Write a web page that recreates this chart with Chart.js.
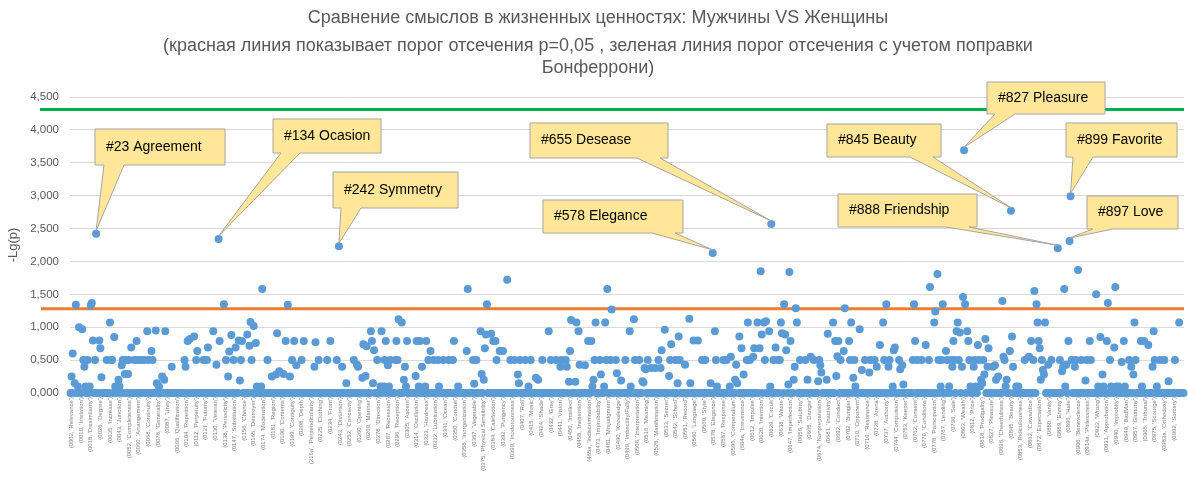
<!DOCTYPE html>
<html>
<head>
<meta charset="utf-8">
<script src="https://cdn.jsdelivr.net/npm/chart.js@4.4.1/dist/chart.umd.min.js"></script>
<style>
  html, body { margin: 0; padding: 0; background: #fff; }
</style>
</head>
<body>
<canvas id="myChart" width="1188" height="481"></canvas>
<script>
/* globals Chart:false */

// Title and axis text
var titleLines = [
  'Сравнение смыслов в жизненных ценностях: Мужчины VS Женщины',
  '(красная линия показывает порог отсечения p=0,05 , зеленая линия порог отсечения с учетом поправки',
  'Бонферрони)'
]
var axisTitle = '-Lg(p)'

// cut-off lines (-lg p)
var cutP05 = 1.28
var cutBonferroni = 4.31

// -lg(p) for every category (20 per row)
var values = [
  0,0.25,0.6,0,0.15,1.34,0,0.1,1,0,0,0.97,0.5,0.4,0.1,0,0.5,0,0.1,1.33,
  1.37,0.8,0,0.5,2.42,0,0,0.8,0.68,0.24,0,0,0,0,0.5,0,0,1.07,0.5,0.5,
  0,0.85,0.1,0,0.1,0.2,0.1,0,0.42,0.5,0,0.29,0.5,0,0.29,0.5,0,0.69,0,0,
  0.5,0,0.79,0.5,0,0,0.5,0,0,0.5,0,0,0.94,0.5,0,0,0.64,0.5,0,0,
  0.95,0.15,0,0.1,0,0,0.25,0,0.2,0.94,0,0,0,0,0,0.4,0,0,0,0,
  0,0,0,0,0,0,0,0.5,0.4,0,0.79,0,0.82,0,0,0,0.86,0,0.5,0.64,
  0,0,0,0,0,0.5,0,0,0.5,0.69,0,0,0,0,0.94,0,0,0.43,0,2.34,
  0.79,0,0,0,1.35,0,0.5,0,0.25,0.63,0,0.88,0,0.5,0,0.69,0,0,0.8,0.19,
  0.5,0.79,0,0,0,0,0.89,0,0.72,1.08,0.5,0,1.02,0,0.76,0.1,0,0,0,0.1,
  1.58,0,0,0,0,0.5,0,0,0,0.25,0,0,0,0.28,0.91,0,0.33,0,0,0,
  0.29,0,0.79,0,1.34,0,0.25,0,0.5,0,0.79,0,0.42,0,0,0,0,0.5,0,0.79,
  0,0,0,0,0,0,0,0,0,0.4,0.77,0,0,0.5,0,0,0,0,0,0,
  0,0.5,0,0,0.79,0,0,0,0,0,0.5,0,2.23,0,0,0.4,0,0,0,0.15,
  0,0,0,0,0,0,0.5,0,0,0.43,0.4,0,0,0,0.23,0.74,0,0.26,0.71,0,
  0,0,0.94,0.79,0.15,0.65,0,0,0.5,0,0,0.1,0.94,0,0.1,0.5,0.79,0,0.42,0.1,
  0.5,0,0,0,0,0.5,0.79,0.5,1.12,0,0,1.07,0,0.2,0.4,0.1,0.79,0,0,0,
  0,0,0,0,0.26,0.79,0,0.1,0.79,0,0.4,0,0,0.1,0.79,0,0.5,0,0.64,0,
  0,0.5,0,0,0,0.5,0.1,0,0,0,0.5,0,0,0,0,0.5,0,0,0,0.5,
  0.79,0,0,0,0.1,0,0,0,0,0,0,0,0.64,1.58,0,0,0,0,0.5,0.14,
  0,0.5,0,0,0,0.94,0.29,0,0.2,0.68,0.89,1.35,0,0,0,0.9,0,0.79,0,0.79,
  0.5,0,0,0.64,0,0,0.64,0,0,0,1.72,0,0,0.5,0,0,0,0.5,0,0,
  0.28,0.15,0.5,0,0,0,0,0.5,0,0,0.1,0,0.5,0,0,0,0,0.23,0,0.2,
  0,0,0,0.5,0,0,0,0,0,0.94,0,0.5,0,0,0,0,0.5,0,0,0,
  0.4,0.5,0,0,0,0.5,0.4,0,0.17,0.64,1.11,0,0,0,0.17,1.07,0,0.94,0.43,0,
  0,0,0,0.42,0,0,0.79,0,0,0.79,0.1,0.2,0.5,1.07,0,0,0,0.5,0.28,0,
  0,0.1,1.07,0.5,1.58,0,0,0.5,1.27,0,0,0,0.5,0.3,0,0,0,0.19,0,0,
  0,0.5,0,0,0,0.94,0.1,0,0,1.12,0.5,0,0,0,0.5,0,0,0.18,0.16,0.38,
  0.36,0,0.5,0,0,0.38,0,0,0,0.38,0,0,0.5,0,0.38,0.65,0,0,0.96,0,
  0,0,0.26,0.5,0.74,0,0,0,0.5,0,0.15,0.86,0.5,0,0,0,0,0.43,0,0,
  0,1.13,0.15,0,0,0.8,0,0,0,0.8,0,0,0,0.5,0,0,0.5,0,0,0,
  0,0.15,0,2.13,0,0.94,0.5,0.1,0,0,0,0,0,0.5,0,0,0.5,0,0,0.1,
  0.55,0,0,0,0.2,0.43,0.15,0,0.86,0,0.68,0,0.28,0,0,0.5,1.07,0,0.5,0,
  0,0.55,0.68,0,0,1.07,0,0.68,1.85,0.89,0,1.07,0.5,1.09,0,0,0.94,0.1,2.57,0,
  0.5,0,0.69,0,0.5,0,0.5,1.07,0.91,0,1.35,0.89,0.65,0,0.13,1.84,0.79,0,0,0.2,
  0.4,1.29,1.07,0,0,0.5,0,0,0,0,0.5,0,0.2,0,0,0.55,0,0,0.5,0,
  0,0,0.18,0.5,0.42,0.31,0,0,0,0,0.2,0.9,0,0,0,0,1.07,0,0.79,0.26,
  0.56,0.79,0,0.5,0,0,0.64,1.29,0,0,0,0.79,0.5,1.07,0,0.23,0.5,0.1,0,0,
  0,0.97,0,0.35,0,0,0.5,0,0,0,0.31,0.5,0,0,0,0.5,0,0.4,0,0,
  0.73,0,0,1.07,0.5,0,1.35,0,0.4,0.5,0,0,0.1,0.65,0.69,0,0,0,0.5,0.36,
  0,0.42,0.13,0,0,0,0,0,0,0,0,0.5,1.35,0.79,0,0.5,0,0,0,0.5,
  0,0,0,0.73,0,0,0.5,1.61,0,0,0,1.07,1.24,0,1.81,0.5,0,0.1,0.5,1.35,
  0,0,0.64,0.5,0,0.1,0,0.5,0.4,0.79,0.5,0,0.94,1.07,0.5,0.92,0,0.4,1.46,3.69,
  1.35,0,0.94,0.79,0.5,0.1,0,0,0.4,0.5,0.1,0,0.73,0.5,0.1,0.2,0.15,0.5,0.28,0.82,
  0,0.4,0.68,0,0,0,0.4,0,0.42,0.2,0,0.25,0,0,0,1.4,0.55,0.5,0.1,0.2,
  0,0,0.64,2.77,0.86,0.4,0,0,0.1,0,0.1,0,0,0,0,0,0.5,0,0,0,
  0.55,0,0.79,0,0.5,1.55,0,1.35,1.07,0.79,0.68,0.2,0.5,0.35,0.28,1.07,0,0,0.43,0,
  0,0.5,0,0,0,0,0,2.2,0,0.5,0,0.33,0.4,1.58,0.1,0.43,0,0.79,2.31,2.99,
  0.5,0,0,0.4,0.5,0,1.87,0,0,0.5,0,0,0,0.19,0.5,0,0,0.79,0.5,0,
  0,0,0,1.5,0,0.1,0,0.85,0,0.28,0.1,0,0,0.79,1.37,0,0.5,0.1,0,0,
  0.69,1.61,0.1,0,0.1,0,0,0.47,0,0.79,0.1,0,0,0,0.5,0,0.4,0,0.28,1.07,
  0.5,0,0,0,0,0.79,0.1,0,0.79,0,0,0,0.73,0,0,0,0.4,0.94,0.5,0,
  0.1,0,0,0.5,0,0,0,0.5,0,0,0,0.18,0,0,0,0,0,0.5,0,0,
  0,1.07,0,0,0,0
]

// every 9th category carries a label, starting at the 2nd one
var tickStart = 1
var tickStep = 9
var tickLabels = [
  "(0002, 'Relevance')", "(0010, 'Irrelation')", "(0018, 'Dissimilarity')", "(0026, 'Degree')", "(0035, 'Increase')",
  "(0043, 'Junction')", "(0052, 'Completeness')", "(0060, 'Arrangement')", "(0068, 'Continuity')", "(0078, 'Generality')",
  "(0087, 'Unity')", "(0096, 'Qualification')", "(0104, 'Repetition')", "(0112, 'Perpetuity')", "(0121, 'Futurity')",
  "(0130, 'Veteran')", "(0138, 'Periodicity')", "(0147, 'Substitution')", "(0156, 'Chance')", "(0165, 'Destroyer')",
  "(0174, 'Moderation')", "(0181, 'Region')", "(0190, 'Contents')", "(0199, 'Contiguity')", "(0208, 'Depth')",
  "(216a', 'Perpendicularity')", "(0225, 'Clothing')", "(0234, 'Front')", "(0243, 'Distortion')", "(0252, 'Concavity')",
  "(0260, 'Opening')", "(0269, 'Mariner')", "(0278, 'Direction')", "(0287, 'Recession')", "(0296, 'Reception')",
  "(0305, 'Ascent')", "(0314, 'Oscillation')", "(0323, 'Hardness')", "(0332, 'Lubrication')", "(0341, 'Ocean')",
  "(0350, 'Conduit')", "(0358, 'Inorganization')", "(0367, 'Vegetable')", "(0375, 'Physical Sensibility')", "(0384, 'Calefaction')",
  "(0392, 'Pungency')", "(0399, 'Inodorousness')", "(0407, 'Roll')", "(0415, 'Music')", "(0424, 'Shade')",
  "(0432, 'Gray')", "(0441, 'Vision')", "(0450, 'Intellect')", "(0458, 'Inattention')", "(465a, 'Indiscrimination')",
  "(0473, 'Improbability')", "(0481, 'Misjudgment')", "(0490, 'Knowledge')", "(0499, 'Imbecility/Folly')", "(0508, 'Interpretation')",
  "(0516, 'Meaning')", "(0525, 'Manifestation')", "(0533, 'Secret')", "(0542, 'School')", "(0551, 'Record')",
  "(0560, 'Language')", "(0569, 'Style')", "(0578, 'Elegance')", "(0587, 'Response')", "(0596, 'Compendium')",
  "(604a, 'Irreverence')", "(0612, 'Impulse')", "(0620, 'Intention')", "(0629, 'Circuit')", "(0638, 'Waste')",
  "(0647, 'Imperfection')", "(0656, 'Salubrity')", "(0665, 'Danger')", "(0674, 'Nonpreparation')", "(0681, 'Inactivity')",
  "(0692, 'Conduct')", "(0702, 'Bungler')", "(0710, 'Opponent')", "(0719, 'Resistance')", "(0728, 'Arena')",
  "(0737, 'Authority')", "(0744, 'Compulsion')", "(0753, 'Keeper')", "(0762, 'Consent')", "(0770, 'Conditions')",
  "(0778, 'Participation')", "(0787, 'Lending')", "(0796, 'Sale')", "(0803, 'Wealth')", "(0812, 'Price')",
  "(0818, 'Prodigality')", "(0827, 'Pleasure')", "(0836, 'Cheerfulness')", "(0845, 'Beauty')", "(0853, 'Ridiculousness')",
  "(0862, 'Cowardice')", "(0872, 'Expectation')", "(0880, 'Vanity')", "(0889, 'Enmity')", "(0896, 'Hate')",
  "(0906, 'Benevolence')", "(0914a, 'Pitilessness')", "(0923, 'Wrong')", "(0931, 'Approbation')", "(0940, 'Improbity')",
  "(0949, 'BadMan')", "(0957, 'Gluttony')", "(0966, 'Tribunal')", "(0975, 'Scourge')", "(0983a, 'Orthodoxy')",
  "(0992, 'Sorcery')"
]

// callouts: text and the category they point at
var calloutText = ['#23 Agreement', '#134 Ocasion', '#242 Symmetry', '#578 Elegance', '#655 Desease',
  '#827 Pleasure', '#845 Beauty', '#899 Favorite', '#888 Friendship', '#897 Love']
var calloutIndex = [24, 139, 252, 603, 658, 839, 883, 939, 927, 938]

// where the callout boxes sit (pixels), b1/b2 = wedge base on the bottom edge
var calloutBoxes = [
  { x: 95, y: 129, w: 130, h: 36, b1: 104, b2: 124 },
  { x: 273, y: 119, w: 108, h: 34, b1: 281, b2: 300 },
  { x: 333, y: 172, w: 125, h: 36, b1: 341, b2: 361 },
  { x: 543, y: 200, w: 140, h: 33, b1: 652, b2: 675 },
  { x: 530, y: 123, w: 138, h: 35, b1: 637, b2: 660 },
  { x: 987, y: 82, w: 118, h: 32, b1: 995, b2: 1015 },
  { x: 827, y: 124, w: 114, h: 33, b1: 910, b2: 933 },
  { x: 1066, y: 123, w: 111, h: 34, b1: 1073, b2: 1093 },
  { x: 838, y: 194, w: 139, h: 33, b1: 946, b2: 969 },
  { x: 1087, y: 196, w: 91, h: 33, b1: 1093, b2: 1113 }
]

var FONT = '"Liberation Sans", Arial, sans-serif'
var GREY = '#595959'

var overlay = {
  id: 'overlay',
  beforeDraw: function (chart) {
    var ctx = chart.ctx
    ctx.save()
    ctx.fillStyle = '#fff'
    ctx.fillRect(0, 0, chart.width, chart.height)
    ctx.fillStyle = GREY
    ctx.font = '18px ' + FONT
    ctx.textAlign = 'center'
    ctx.textBaseline = 'middle'
    ctx.fillText(titleLines[0], 598, 18)
    ctx.fillText(titleLines[1], 598, 46)
    ctx.fillText(titleLines[2], 598, 68)
    ctx.restore()
  },
  beforeDatasetsDraw: function (chart) {
    var ctx = chart.ctx
    var y = chart.scales.y
    var right = chart.chartArea.right
    ctx.save()
    ctx.lineWidth = 3
    ctx.strokeStyle = '#ED7D31'
    ctx.beginPath()
    ctx.moveTo(41, y.getPixelForValue(cutP05))
    ctx.lineTo(right, y.getPixelForValue(cutP05))
    ctx.stroke()
    ctx.strokeStyle = '#00B050'
    ctx.beginPath()
    ctx.moveTo(40, y.getPixelForValue(cutBonferroni))
    ctx.lineTo(right, y.getPixelForValue(cutBonferroni))
    ctx.stroke()
    ctx.restore()
  },
  afterDatasetsDraw: function (chart) {
    var ctx = chart.ctx
    var xs = chart.scales.x
    var ys = chart.scales.y
    ctx.save()
    calloutBoxes.forEach(function (b, i) {
      var idx = calloutIndex[i]
      var tx = xs.getPixelForValue(idx)
      var ty = ys.getPixelForValue(values[idx]) - 3
      var bottom = b.y + b.h
      ctx.beginPath()
      ctx.moveTo(b.x, b.y)
      ctx.lineTo(b.x + b.w, b.y)
      ctx.lineTo(b.x + b.w, bottom)
      ctx.lineTo(b.b2, bottom)
      ctx.lineTo(tx, ty)
      ctx.lineTo(b.b1, bottom)
      ctx.lineTo(b.x, bottom)
      ctx.closePath()
      ctx.fillStyle = '#FFE699'
      ctx.fill()
      ctx.lineWidth = 1
      ctx.strokeStyle = '#A5A5A5'
      ctx.stroke()
      ctx.fillStyle = '#000'
      ctx.font = '14px ' + FONT
      ctx.textAlign = 'left'
      ctx.textBaseline = 'middle'
      ctx.fillText(calloutText[i], b.x + 11, b.y + b.h / 2)
    })
    ctx.restore()
  }
}

var ctx = document.getElementById('myChart')
// eslint-disable-next-line no-unused-vars
var myChart = new Chart(ctx, {
  type: 'scatter',
  data: {
    datasets: [{
      data: values.map(function (v, i) { return { x: i, y: v } }),
      backgroundColor: '#5B9BD5',
      borderColor: '#5B9BD5',
      borderWidth: 0,
      pointRadius: 4,
      clip: false
    }]
  },
  options: {
    responsive: false,
    animation: false,
    devicePixelRatio: 1,
    layout: { padding: { top: 97, left: 0, right: 0, bottom: 0 } },
    plugins: {
      legend: { display: false },
      tooltip: { enabled: false },
      title: { display: false }
    },
    scales: {
      x: {
        type: 'linear',
        min: -0.5,
        max: values.length - 0.5,
        grid: { display: false, drawTicks: false },
        border: { display: false },
        afterBuildTicks: function (scale) {
          scale.ticks = tickLabels.map(function (t, k) { return { value: tickStart + k * tickStep } })
        },
        ticks: {
          autoSkip: false,
          minRotation: 90,
          maxRotation: 90,
          padding: 4,
          color: '#7F7F7F',
          font: { size: 6, family: FONT },
          callback: function (value, index) { return tickLabels[index] }
        },
        afterFit: function (scale) { scale.height = 88 }
      },
      y: {
        min: 0,
        max: 4.5,
        grid: { color: '#D9D9D9', drawTicks: false },
        border: { display: false },
        ticks: {
          stepSize: 0.5,
          padding: 11,
          color: GREY,
          font: { size: 11.5, family: FONT },
          callback: function (value) { return value.toFixed(3).replace('.', ',') }
        },
        title: {
          display: true,
          text: axisTitle,
          color: GREY,
          font: { size: 13, family: FONT },
          padding: { top: 6, bottom: 0 }
        },
        afterFit: function (scale) { scale.width = 70 }
      }
    }
  },
  plugins: [overlay]
})
</script>
</body>
</html>
